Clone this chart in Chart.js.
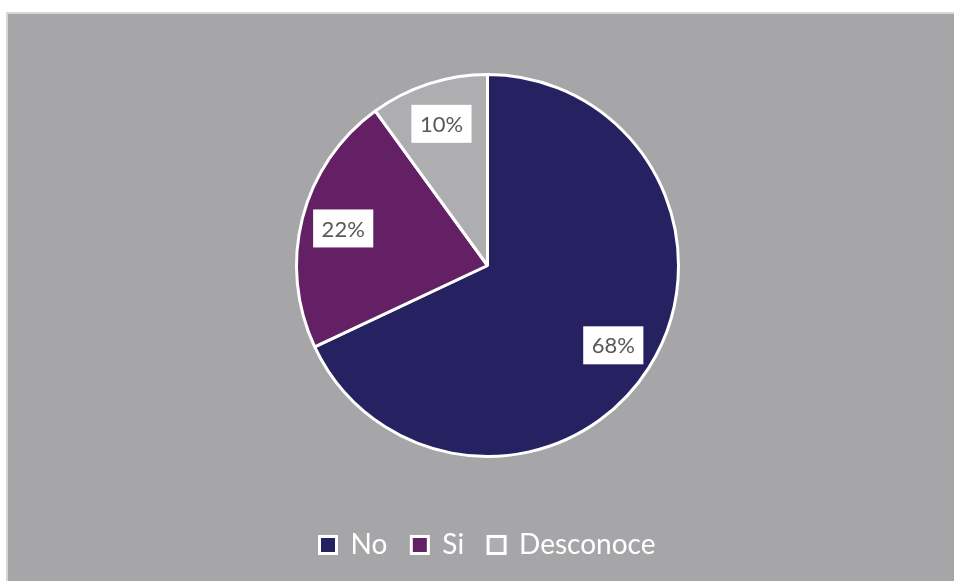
<!DOCTYPE html>
<html>
<head>
<meta charset="utf-8">
<script src="https://cdn.jsdelivr.net/npm/chart.js@4/dist/chart.umd.min.js"></script>
<style>
  html, body { margin: 0; padding: 0; background: #ffffff; }
  #wrap { position: relative; width: 954px; height: 581px; }
</style>
</head>
<body>
<div id="wrap"><canvas id="chart"></canvas></div>
<script>
// Respuestas y porcentajes
const categories = ['No', 'Si', 'Desconoce'];
const values = [68, 22, 10];
const sliceColors = ['#262262', '#632064', '#aeaeb0'];

const FONT = 'Lato, "Open Sans", "Noto Sans", sans-serif';

// Fondo gris del área del gráfico con borde claro
const backgroundPlugin = {
  id: 'panelBackground',
  beforeDraw(chart) {
    const ctx = chart.ctx;
    ctx.save();
    ctx.fillStyle = '#ffffff';
    ctx.fillRect(0, 0, chart.width, chart.height);
    ctx.fillStyle = '#d6d6d6';
    ctx.fillRect(6, 12, chart.width - 6, chart.height - 12);
    ctx.fillStyle = '#a6a6a8';
    ctx.fillRect(8, 14, chart.width - 8, chart.height - 14);
    ctx.restore();
  }
};

// Etiquetas de porcentaje en cajas blancas
const valueLabels = {
  id: 'valueLabels',
  afterDatasetsDraw(chart) {
    const ctx = chart.ctx;
    const meta = chart.getDatasetMeta(0);
    ctx.save();
    ctx.font = '22px ' + FONT;
    ctx.textAlign = 'center';
    ctx.textBaseline = 'middle';
    meta.data.forEach((arc, i) => {
      const p = arc.getProps(['x', 'y', 'startAngle', 'endAngle', 'outerRadius'], true);
      const mid = (p.startAngle + p.endAngle) / 2;
      const r = p.outerRadius * 0.78;
      const cx = p.x + Math.cos(mid) * r;
      const cy = p.y + Math.sin(mid) * r;
      const text = values[i] + '%';
      const w = ctx.measureText(text).width + 17;
      const h = 38;
      ctx.fillStyle = '#ffffff';
      ctx.fillRect(cx - w / 2, cy - h / 2, w, h);
      ctx.fillStyle = '#595959';
      ctx.fillText(text, cx, cy + 1);
    });
    ctx.restore();
  }
};

new Chart(document.getElementById('chart'), {
  type: 'pie',
  data: {
    labels: categories,
    datasets: [{
      data: values,
      backgroundColor: sliceColors,
      borderColor: '#ffffff',
      borderWidth: 3,
      radius: 191
    }]
  },
  options: {
    responsive: true,
    maintainAspectRatio: false,
    animation: false,
    layout: { padding: { left: 21, top: 24, bottom: 12 } },
    plugins: {
      legend: {
        position: 'bottom',
        labels: {
          color: '#ffffff',
          font: { family: FONT, size: 28 },
          boxWidth: 17,
          boxHeight: 17,
          padding: 24
        }
      },
      tooltip: { enabled: false }
    }
  },
  plugins: [backgroundPlugin, valueLabels]
});
</script>
</body>
</html>
